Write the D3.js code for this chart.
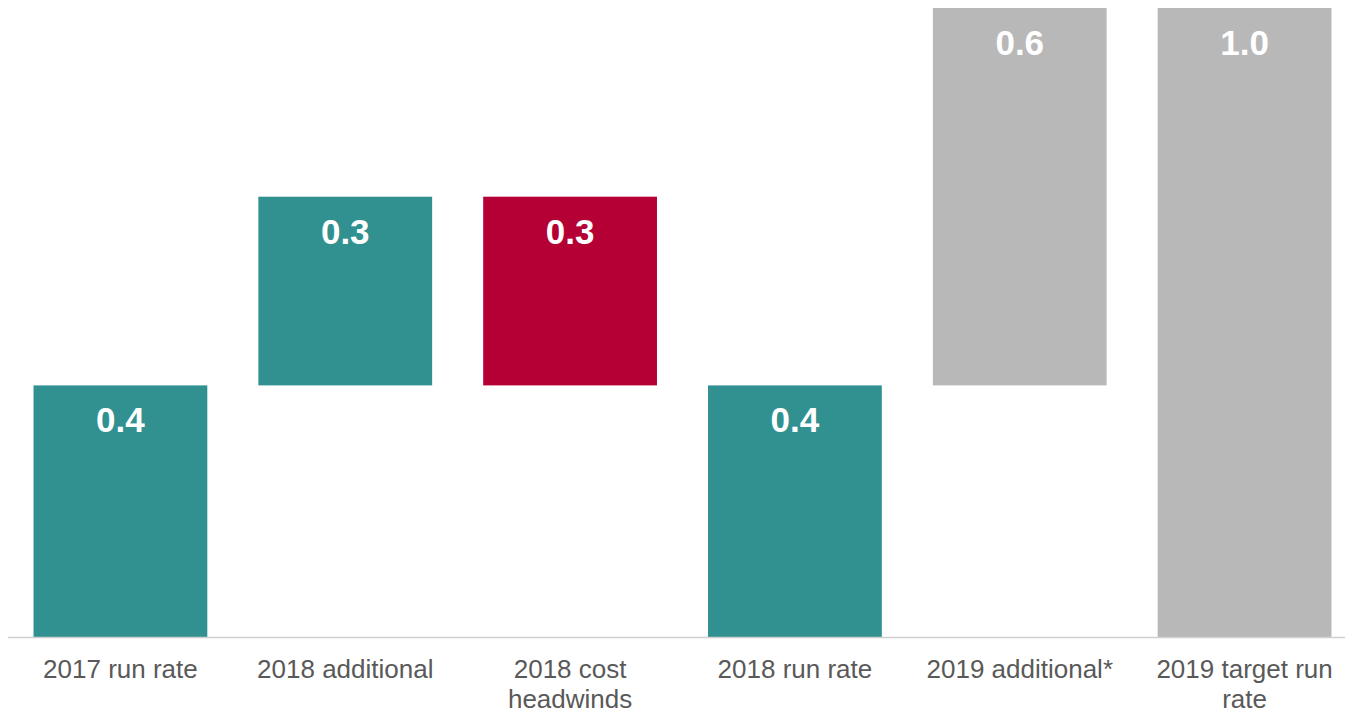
<!DOCTYPE html>
<html>
<head>
<meta charset="utf-8">
<script src="https://cdn.jsdelivr.net/npm/d3@7"></script>
<style>
  body { margin: 0; background: #fff; }
  svg { display: block; font-family: "Liberation Sans", Arial, sans-serif; }
</style>
</head>
<body>
<div id="chart"></div>
<script>
var categories = ["2017 run rate", "2018 additional", "2018 cost headwinds", "2018 run rate", "2019 additional*", "2019 target run rate"];
var values = [0.4, 0.3, 0.3, 0.4, 0.6, 1.0];
// total = starts at zero, up = adds to running total, down = takes off
var kinds = ["total", "up", "down", "total", "up", "total"];
var labels = ["0.4", "0.3", "0.3", "0.4", "0.6", "1.0"];
var colourKeys = ["teal", "teal", "red", "teal", "grey", "grey"];

var width = 1345, height = 711;
var margin = {left: 8, top: 8, right: 0, bottom: 74};

var svg = d3.select("#chart").append("svg")
    .attr("width", width)
    .attr("height", height);

// running total for the waterfall
var running = 0;
var data = categories.map(function(c, i) {
  var lo, hi;
  if (kinds[i] == "total") { lo = 0; hi = values[i]; running = values[i]; }
  else if (kinds[i] == "up") { lo = running; hi = running + values[i]; running = hi; }
  else { hi = running; lo = running - values[i]; running = lo; }
  return {cat: c, lo: lo, hi: hi, label: labels[i], colour: colourKeys[i]};
});

var colours = d3.scaleOrdinal()
    .domain(["teal", "red", "grey"])
    .range(["#319191", "#B40035", "#B8B8B8"]);

var x = d3.scaleBand()
    .domain(categories)
    .range([margin.left, 1357])
    .paddingInner(0.227)
    .paddingOuter(0.1135);

var y = d3.scaleLinear()
    .domain([0, 1.0])
    .range([height - margin.bottom, margin.top]);

svg.selectAll(".bar")
    .data(data)
  .enter().append("rect")
    .attr("class", "bar")
    .attr("x", function(d) { return x(d.cat); })
    .attr("y", function(d) { return y(d.hi); })
    .attr("width", x.bandwidth())
    .attr("height", function(d) { return y(d.lo) - y(d.hi); })
    .attr("fill", function(d) { return colours(d.colour); });

svg.selectAll(".val")
    .data(data)
  .enter().append("text")
    .attr("class", "val")
    .attr("x", function(d) { return x(d.cat) + x.bandwidth() / 2; })
    .attr("y", function(d) { return y(d.hi) + 47; })
    .attr("text-anchor", "middle")
    .attr("fill", "#fff")
    .style("font-size", "35px")
    .style("font-weight", "bold")
    .text(function(d) { return d.label; });

// baseline
svg.append("line")
    .attr("x1", margin.left)
    .attr("x2", width)
    .attr("y1", y(0) + 0.5)
    .attr("y2", y(0) + 0.5)
    .attr("stroke", "#D0D0D0")
    .attr("stroke-width", 1.5);

var xAxis = svg.append("g")
    .attr("transform", "translate(0," + y(0) + ")")
    .call(d3.axisBottom(x).tickSize(0).tickPadding(0));

xAxis.select(".domain").remove();
xAxis.selectAll("text")
    .attr("y", 41)
    .attr("dy", 0)
    .attr("fill", "#595959")
    .style("font-size", "26px")
    .style("font-family", "'Liberation Sans', Arial, sans-serif")
    .call(wrap, x.step() - 8);

function wrap(texts, w) {
  texts.each(function() {
    var text = d3.select(this),
        words = text.text().split(/\s+/),
        line = [],
        lineNo = 0,
        yy = text.attr("y");
    text.text(null);
    var tspan = text.append("tspan").attr("x", 0).attr("y", yy);
    words.forEach(function(word) {
      line.push(word);
      tspan.text(line.join(" "));
      if (tspan.node().getComputedTextLength() > w && line.length > 1) {
        line.pop();
        tspan.text(line.join(" "));
        line = [word];
        lineNo++;
        tspan = text.append("tspan").attr("x", 0).attr("y", +yy + lineNo * 30).text(word);
      }
    });
  });
}
</script>
</body>
</html>
